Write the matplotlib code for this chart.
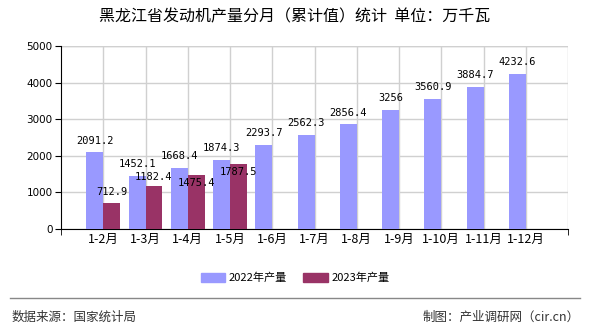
import numpy as np
import matplotlib.pyplot as plt
from matplotlib.lines import Line2D

plt.rcParams['font.family'] = ['Noto Sans CJK SC', 'DejaVu Sans']

# Data
months = ['1-2月', '1-3月', '1-4月', '1-5月', '1-6月', '1-7月',
          '1-8月', '1-9月', '1-10月', '1-11月', '1-12月']
y2022 = [2091.2, 1452.1, 1668.4, 1874.3, 2293.7, 2562.3,
         2856.4, 3256, 3560.9, 3884.7, 4232.6]
y2023 = [712.9, 1182.4, 1475.4, 1787.5]
labels2022 = ['2091.2', '1452.1', '1668.4', '1874.3', '2293.7', '2562.3',
              '2856.4', '3256', '3560.9', '3884.7', '4232.6']
labels2023 = ['712.9', '1182.4', '1475.4', '1787.5']
# label offsets (points) for the 2023 series, as the source chart shifts them
off2023 = [7.9, 6.5, -5.8, -5.8]

c2022 = '#9999FF'
c2023 = '#993366'

fig = plt.figure(figsize=(5.9, 3.3), dpi=100)
ax = fig.add_axes([61/590, 1-229/330, 507/590, 183/330])

x = np.arange(1, len(months) + 1)
w = 0.4
ax.bar(x - w/2, y2022, width=w, color=c2022, zorder=3)
x23 = x[:len(y2023)]
ax.bar(x23 + w/2, y2023, width=w, color=c2023, zorder=3)

# value labels
for xi, v, s in zip(x, y2022, labels2022):
    ax.annotate(s, (xi - w/2, v), xytext=(0, 8.6), textcoords='offset points',
                ha='center', va='center', fontsize=7.5,
                family='DejaVu Sans Mono', zorder=5)
for xi, v, s, o in zip(x23, y2023, labels2023, off2023):
    ax.annotate(s, (xi + w/2, v), xytext=(0, o), textcoords='offset points',
                ha='center', va='center', fontsize=7.5,
                family='DejaVu Sans Mono', zorder=5)

ax.set_xlim(0, 12)
ax.set_ylim(0, 5000)
ax.set_yticks(np.arange(0, 5001, 1000))
ax.set_xticks(x)
ax.set_xticklabels(months, fontsize=9)
ax.set_xticks([0, 12], minor=True)
ax.tick_params(axis='x', which='major', length=0, pad=3)
ax.tick_params(axis='x', which='minor', length=4, color='black')
ax.tick_params(axis='y', labelsize=7.5, length=4, pad=2)
for lab in ax.get_yticklabels():
    lab.set_family('DejaVu Sans')

ax.grid(True, which='major', color='#D0D0D0', linewidth=1, zorder=0)
ax.set_axisbelow(True)
ax.spines['top'].set_visible(False)
ax.spines['right'].set_visible(False)
ax.spines['left'].set_color('black')
ax.spines['bottom'].set_color('black')
ax.axvline(12, color='#D0D0D0', linewidth=1, zorder=0)
ax.axhline(5000, color='#D0D0D0', linewidth=1, zorder=0)

fig.text(0.5, 1-17/330, '黑龙江省发动机产量分月（累计值）统计  单位：万千瓦',
         ha='center', va='center', fontsize=11.5)

handles = [plt.Rectangle((0, 0), 1, 1, color=c2022),
           plt.Rectangle((0, 0), 1, 1, color=c2023)]
fig.legend(handles, ['2022年产量', '2023年产量'], loc='center',
           bbox_to_anchor=(0.5, 1-278/330), ncol=2, frameon=False,
           fontsize=8, handlelength=2.2, handleheight=0.9,
           columnspacing=1.5, handletextpad=0.3)

fig.add_artist(Line2D([10/590, 580/590], [1-298/330, 1-298/330],
                      color='#888888', linewidth=1))
fig.text(12/590, 1-317/330, '数据来源：国家统计局', ha='left', va='center',
         fontsize=9, color='#333333')
fig.text(580/590, 1-317/330, '制图：产业调研网（cir.cn）', ha='right', va='center',
         fontsize=9, color='#333333')

fig.savefig('out.png', dpi=100)
